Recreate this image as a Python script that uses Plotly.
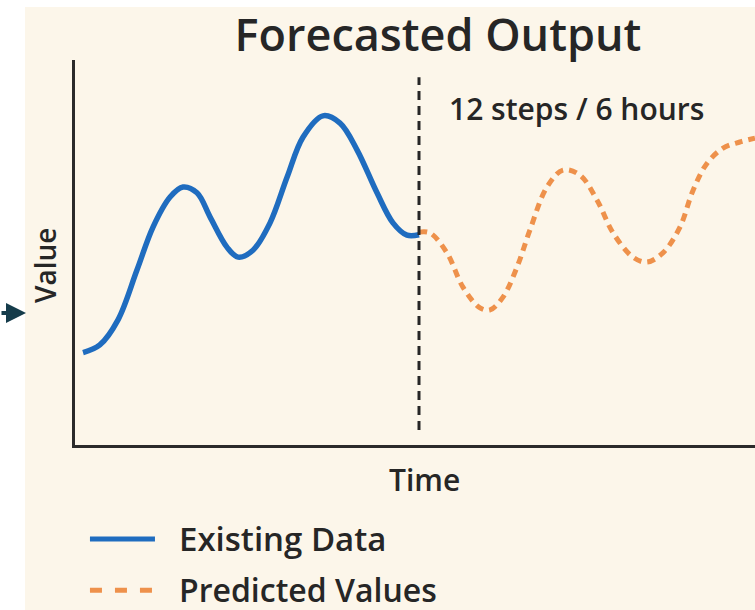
import plotly.graph_objects as go

# Existing data (time steps relative to forecast start, value)
existing_t = [-12.0, -11.4, -10.75, -10.07, -9.5, -8.89, -8.43, -7.93, -7.46, -6.86, -6.46,
              -5.93, -5.32, -4.71, -4.14, -3.43, -2.82, -2.21, -1.5, -0.93, -0.43, 0.0]
existing_v = [24.0, 26.0, 32.5, 45.5, 56.6, 64.4, 67.0, 65.5, 59.2, 51.4, 48.8,
              50.6, 57.7, 69.6, 80.0, 85.5, 83.6, 76.6, 65.5, 57.7, 54.5, 54.6]

# Predicted values (12 steps / 6 hours)
pred_t = [0.0, 0.39, 1.0, 1.57, 2.18, 2.54, 3.0, 3.5, 3.96, 4.57, 5.14, 5.75,
          6.36, 6.93, 7.64, 8.14, 8.71, 9.32, 9.79, 10.29, 10.86, 11.46, 12.0]
pred_v = [55.3, 55.1, 49.9, 41.0, 35.6, 35.1, 38.4, 46.2, 55.8, 67.0, 71.4, 70.1,
          63.6, 55.1, 48.8, 47.5, 49.9, 56.6, 66.2, 73.2, 77.1, 78.7, 79.7]

forecast_start = 0.0
x_range = [-12.286, 12.0]
y_range = [0, 100]

BEIGE = "#FCF6EA"
BLUE = "#1F6CBF"
ORANGE = "#EE914B"
DARK = "#262626"
FONT = "Open Sans"

fig = go.Figure()
fig.add_trace(go.Scatter(x=existing_t, y=existing_v, mode="lines", name="Existing Data",
                         line=dict(color=BLUE, width=5.5, shape="spline", smoothing=1.0),
                         showlegend=False))
fig.add_trace(go.Scatter(x=pred_t, y=pred_v, mode="lines", name="Predicted Values",
                         line=dict(color=ORANGE, width=5, shape="spline", smoothing=1.0,
                                   dash="8px,6px"),
                         showlegend=False))

shapes = [
    # beige card background
    dict(type="rect", xref="paper", yref="paper", x0=-0.0735, x1=1.0, y0=-0.4286, y1=1.1377,
         fillcolor=BEIGE, line=dict(width=0), layer="below"),
    # forecast start divider
    dict(type="line", xref="x", yref="paper", x0=forecast_start, x1=forecast_start,
         y0=0.039, y1=0.955, line=dict(color=DARK, width=3, dash="9px,6px")),
    # manual legend swatches
    dict(type="line", xref="paper", yref="paper", x0=0.022, x1=0.1176, y0=-0.244, y1=-0.244,
         line=dict(color=BLUE, width=5)),
    dict(type="line", xref="paper", yref="paper", x0=0.022, x1=0.1176, y0=-0.377, y1=-0.377,
         line=dict(color=ORANGE, width=5, dash="12px,13px")),
]

annotations = [
    dict(text="12 steps / 6 hours", xref="paper", yref="paper", x=(447 - 75) / 680,
         y=(445 - 108) / 385, xanchor="left", yanchor="middle", showarrow=False,
         font=dict(family=FONT, size=30, color=DARK, weight=600)),
    dict(text="Value", xref="paper", yref="paper", x=(45 - 75) / 680, y=(445 - 266) / 385,
         xanchor="center", yanchor="middle", showarrow=False, textangle=-90,
         font=dict(family=FONT, size=28, color=DARK, weight=600)),
    dict(text="Time", xref="paper", yref="paper", x=(425 - 75) / 680, y=(445 - 480) / 385,
         xanchor="center", yanchor="middle", showarrow=False,
         font=dict(family=FONT, size=30, color=DARK, weight=600)),
    dict(text="Existing Data", xref="paper", yref="paper", x=(177 - 75) / 680, y=-0.244,
         xanchor="left", yanchor="middle", showarrow=False,
         font=dict(family=FONT, size=33, color=DARK, weight=600)),
    dict(text="Predicted Values", xref="paper", yref="paper", x=(177 - 75) / 680,
         y=(445 - 589) / 385, xanchor="left", yanchor="middle", showarrow=False,
         font=dict(family=FONT, size=32, color=DARK, weight=600)),
    # pointer arrow at left edge
    dict(text="", xref="paper", yref="paper", x=(26 - 75) / 680, y=(445 - 313) / 385,
         ax=-27, ay=0, showarrow=True, arrowhead=2, arrowsize=1, arrowwidth=4,
         arrowcolor="#153C4B"),
]

fig.update_layout(
    width=755, height=610,
    margin=dict(l=75, r=0, t=60, b=165),
    paper_bgcolor="white", plot_bgcolor=BEIGE,
    title=dict(text="Forecasted Output", x=438 / 755, xanchor="center",
               y=1 - 35 / 610, yanchor="middle",
               font=dict(family=FONT, size=45, color=DARK, weight=600)),
    xaxis=dict(range=x_range, showgrid=False, zeroline=False, showticklabels=False,
               ticks="", showline=True, linecolor="#2B2B2B", linewidth=3),
    yaxis=dict(range=y_range, showgrid=False, zeroline=False, showticklabels=False,
               ticks="", showline=True, linecolor="#2B2B2B", linewidth=3),
    shapes=shapes, annotations=annotations,
)

fig.write_html("out.html", config={"displayModeBar": False},
               post_script="document.body.style.margin='0';document.body.style.padding='0';")
